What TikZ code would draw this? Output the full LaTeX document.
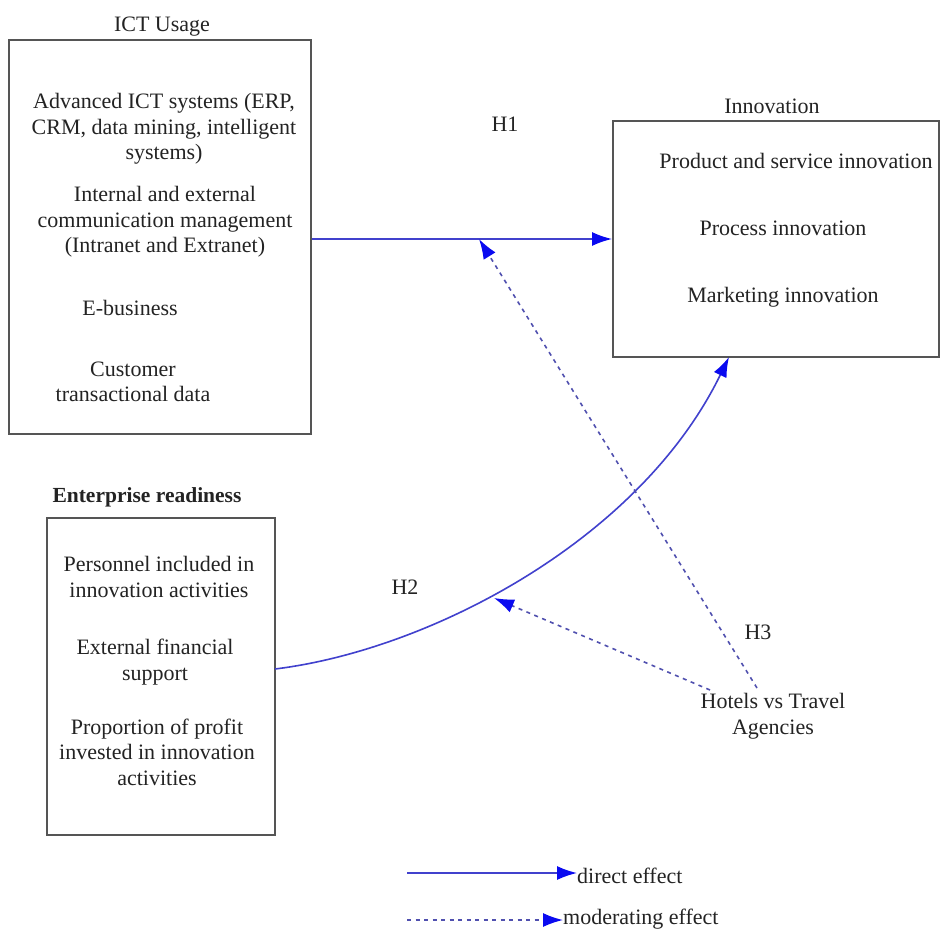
\documentclass[tikz,border=0pt]{standalone}
\usepackage{fontspec}
\setmainfont{Liberation Serif}
\usetikzlibrary{arrows.meta}
\definecolor{lineblue}{RGB}{65,65,205}
\definecolor{tipblue}{RGB}{10,10,240}
\definecolor{dashblue}{RGB}{80,80,175}
\definecolor{boxgray}{RGB}{85,85,85}
\definecolor{txt}{RGB}{35,35,35}
\begin{document}
\begin{tikzpicture}[x=1pt,y=-1pt,
  box/.style={draw=boxgray,line width=2pt,rectangle,inner sep=0pt},
  lbl/.style={text=txt,font=\fontsize{22}{25.5}\selectfont,align=center,inner sep=0pt},
  tip/.style={-{Latex[length=20pt,width=14pt,fill=tipblue,color=tipblue]}},
  direct/.style={tip,draw=lineblue,line width=1.6pt},
  moder/.style={tip,draw=dashblue,line width=1.6pt,dash pattern=on 4pt off 4.5pt}]
\path[use as bounding box] (0,0) rectangle (940,931);
\fill[white] (0,0) rectangle (940,931);

% boxes
\node[box,minimum width=302pt,minimum height=394pt] (ict) at (160,237) {};
\node[box,minimum width=326pt,minimum height=236pt] (innov) at (776,239) {};
\node[box,minimum width=228pt,minimum height=317pt] (ent) at (161,676.5) {};

% titles
\node[lbl] (ictT) at (162,27) {ICT Usage};
\node[lbl] (innT) at (772,106) {Innovation};
\node[lbl,font=\fontsize{21.5}{25.5}\selectfont\bfseries] (entT) at (147,497) {Enterprise readiness};

% ICT contents
\node[lbl] (ict1) at (164,129) {Advanced ICT systems (ERP,\\CRM, data mining, intelligent\\systems)};
\node[lbl] (ict2) at (165,222) {Internal and external\\communication management\\(Intranet and Extranet)};
\node[lbl] (ict3) at (130,308) {E-business};
\node[lbl] (ict4) at (133,382) {Customer\\transactional data};

% Innovation contents
\node[lbl] (inn1) at (796,161) {Product and service innovation};
\node[lbl] (inn2) at (783,228) {Process innovation};
\node[lbl] (inn3) at (783,297) {Marketing innovation};

% Enterprise contents
\node[lbl] (ent1) at (159,577) {Personnel included in\\innovation activities};
\node[lbl] (ent2) at (155,662) {External financial\\support};
\node[lbl] (ent3) at (157,752) {Proportion of profit\\invested in innovation\\activities};

% labels
\node[lbl] (h1) at (505,124) {H1};
\node[lbl] (h2) at (405,587) {H2};
\node[lbl] (h3) at (758,632) {H3};
\node[lbl] (hot) at (773,716) {Hotels vs Travel\\Agencies};

% connector points
\coordinate (h2s) at (275,669);
\coordinate (h2e) at (729,357);
\coordinate (m1s) at (757,688);
\coordinate (m1e) at (479,239);
\coordinate (m2s) at (710,690);
\coordinate (m2e) at (494,598);

% connectors
\draw[direct] (ict.east |- innov.west) -- (innov.west);
\draw[direct] (h2s) .. controls (430,650) and (640,540) .. (h2e);
\draw[moder] (m1s) -- (m1e);
\draw[moder] (m2s) -- (m2e);

% legend
\coordinate (l1s) at (407,873);
\coordinate (l2s) at (407,920);
\node[lbl,anchor=west] (leg1) at (577,876) {direct effect};
\node[lbl,anchor=west] (leg2) at (563,919) {moderating effect};
\draw[direct] (l1s) -- (leg1.west |- l1s);
\draw[moder] (l2s) -- (leg2.west |- l2s);
\end{tikzpicture}
\end{document}
